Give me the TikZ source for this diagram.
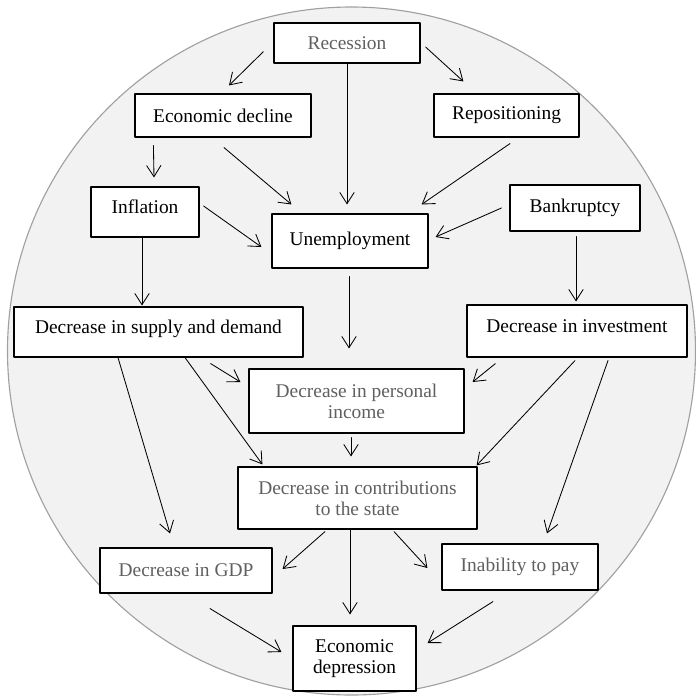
\documentclass[tikz,border=0pt]{standalone}
\usepackage{fontspec}
\setmainfont{Liberation Serif}
\usetikzlibrary{arrows.meta}
\definecolor{txtgray}{RGB}{96,96,96}
\definecolor{discfill}{RGB}{242,242,242}
\definecolor{discline}{RGB}{160,160,160}
\begin{document}
\begin{tikzpicture}[x=0.025cm,y=-0.025cm,>={Straight Barb[length=2.8mm,width=3.6mm]},line join=round,line cap=round,
		font=\fontsize{13.8pt}{15pt}\selectfont,
		box/.style={draw,fill=white,line width=0.8pt,inner sep=2pt,align=center},
		grey/.style={text=txtgray},
		raised/.style={text depth=0.27cm},
		arr/.style={->,line width=0.6pt}]
	\useasboundingbox (0,0) rectangle (696,698);
	\filldraw[fill=discfill,draw=discline,line width=0.8pt] (351.5,351) circle (344);
	% boxes
	\node[box,grey,minimum width=3.65cm,minimum height=1cm] (rec) at (347,43) {Recession};
	\node[box,minimum width=4.4cm,minimum height=1.075cm] (edec) at (223,115.5) {Economic decline};
	\node[box,minimum width=3.625cm,minimum height=1.075cm] (repo) at (506.5,115.5) {Repositioning};
	\node[box,raised,minimum width=2.7cm,minimum height=1.25cm] (infl) at (145,212) {Inflation};
	\node[box,minimum width=3.9cm,minimum height=1.35cm] (unemp) at (350,241) {Unemployment};
	\node[box,minimum width=3.25cm,minimum height=1.15cm] (bank) at (575,208) {Bankruptcy};
	\node[box,raised,minimum width=7.225cm,minimum height=1.25cm] (supply) at (158.5,332) {Decrease in supply and demand};
	\node[box,raised,minimum width=5.5cm,minimum height=1.3cm] (invest) at (577,331) {Decrease in investment};
	\node[box,grey,minimum width=5.375cm,minimum height=1.6cm] (pinc) at (356.5,401) {Decrease in personal\\income};
	\node[box,grey,minimum width=5.975cm,minimum height=1.55cm] (contr) at (357.5,498) {Decrease in contributions\\to the state};
	\node[box,grey,minimum width=4.3cm,minimum height=1.125cm] (gdp) at (186,570.5) {Decrease in GDP};
	\node[box,grey,minimum width=3.9cm,minimum height=1.15cm] (inab) at (520,567) {Inability to pay};
	\node[box,minimum width=3.075cm,minimum height=1.625cm] (depr) at (354.5,658.5) {Economic\\depression};
	% arrows
	\draw[arr] ([shift={(-10,-12)}]rec.south west) -- ([shift={(6,-8)}]edec.north);
	\draw[arr] ([shift={(5,4)}]rec.east) -- ([shift={(30,-12)}]repo.north west);
	\draw[arr] (rec.south) -- ([shift={(-3,-9)}]unemp.north);
	\draw[arr] ([shift={(19,8)}]edec.south west) -- ([shift={(9,-9)}]infl.north);
	\draw[arr] ([shift={(1,10)}]edec.south) -- ([shift={(20,-9)}]unemp.north west);
	\draw[arr] ([shift={(3.5,6)}]repo.south) -- ([shift={(-7,-9)}]unemp.north east);
	\draw[arr] ([shift={(4,-6)}]infl.east) -- ([shift={(-10,6)}]unemp.west);
	\draw[arr] ([shift={(-8,0)}]bank.west) -- ([shift={(7,-4)}]unemp.east);
	\draw[arr] ([shift={(-3,0)}]infl.south) -- ([shift={(-16.5,-1)}]supply.north);
	\draw[arr] ([shift={(-1,8)}]unemp.south) -- ([shift={(-7.5,-20)}]pinc.north);
	\draw[arr] ([shift={(1,5)}]bank.south) -- ([shift={(-1,-3)}]invest.north);
	\draw[arr] ([shift={(-93,6)}]supply.south east) -- ([shift={(-8,-19)}]pinc.west);
	\draw[arr] ([shift={(26.5,0)}]supply.south) -- ([shift={(25,-2)}]contr.north west);
	\draw[arr] ([shift={(-40.5,0)}]supply.south) -- ([shift={(-16,-14)}]gdp.north);
	\draw[arr] ([shift={(29,6)}]invest.south west) -- ([shift={(8,-19)}]pinc.east);
	\draw[arr] ([shift={(-2,3)}]invest.south) -- ([shift={(-1,-1)}]contr.north east);
	\draw[arr] ([shift={(31,3)}]invest.south) -- ([shift={(27,-10)}]inab.north);
	\draw[arr] ([shift={(-5.5,4)}]pinc.south) -- ([shift={(-6.5,-10)}]contr.north);
	\draw[arr] ([shift={(-32.5,2)}]contr.south) -- ([shift={(10,-1.5)}]gdp.east);
	\draw[arr] ([shift={(-7.5,0)}]contr.south) -- ([shift={(-4.5,-11)}]depr.north);
	\draw[arr] ([shift={(36.5,2)}]contr.south) -- ([shift={(-14,1)}]inab.west);
	\draw[arr] ([shift={(24,15)}]gdp.south) -- ([shift={(-11,-6.5)}]depr.west);
	\draw[arr] ([shift={(-27,11)}]inab.south) -- ([shift={(11,-15.5)}]depr.east);
\end{tikzpicture}
\end{document}
